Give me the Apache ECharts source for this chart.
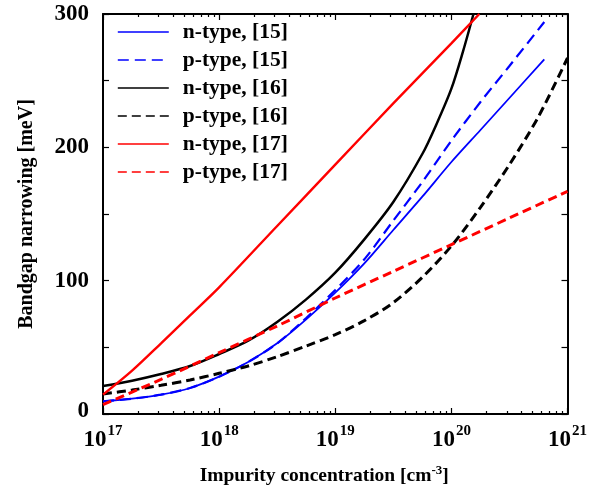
<!DOCTYPE html>
<html>
<head>
<meta charset="utf-8">
<script src="https://cdn.jsdelivr.net/npm/echarts@6/dist/echarts.min.js"></script>
<style>
html,body{margin:0;padding:0;background:#fff;}
#chart{width:590px;height:491px;}
</style>
</head>
<body>
<div id="chart"></div>
<script>
// ---- data (impurity concentration in cm^-3, bandgap narrowing in meV) ----
var seriesNames = ['n-type, [15]', 'p-type, [15]', 'n-type, [16]', 'p-type, [16]', 'n-type, [17]', 'p-type, [17]'];

var n15N = [1e17, 1.78e17, 3.16e17, 5.62e17, 1e18, 1.78e18, 3.16e18, 5.62e18, 1e19, 1.78e19, 3.16e19, 5.62e19, 1e20, 1.78e20, 3.16e20, 6.31e20];
var n15Y = [9.5, 11.5, 14.5, 19.5, 28, 39, 53, 71, 91, 113, 138, 163, 189, 213, 237, 266];

var p15N = [1e17, 1.78e17, 3.16e17, 5.62e17, 1e18, 1.78e18, 3.16e18, 5.62e18, 1e19, 1.78e19, 3.16e19, 5.62e19, 1e20, 1.78e20, 3.16e20, 6.31e20];
var p15Y = [9.5, 11.5, 14.5, 19.5, 28, 39, 53, 72, 93, 116, 145, 174, 205, 234, 261, 294];

var n16N = [1e17, 1.78e17, 3.16e17, 5.62e17, 1e18, 1.78e18, 3.16e18, 5.62e18, 1e19, 1.78e19, 3.16e19, 5.62e19, 7.41e19, 1e20, 1.26e20, 1.55e20];
var n16Y = [21, 25, 30, 36, 45, 55, 69, 86, 106, 131, 159, 195, 217, 244, 272, 300];

var p16N = [1e17, 1.78e17, 3.16e17, 5.62e17, 1e18, 1.78e18, 3.16e18, 5.62e18, 1e19, 1.78e19, 3.16e19, 5.62e19, 1e20, 1.78e20, 3.16e20, 5.62e20, 1e21];
var p16Y = [15, 18, 21.5, 25.5, 30.5, 36, 43, 51, 59.5, 70, 83.5, 102.5, 126, 155, 187, 223, 267];

var n17N = [1e17, 1.78e17, 3.16e17, 5.62e17, 1e18, 3.16e18, 1e19, 3.16e19, 1e20, 1.74e20];
var n17Y = [14.5, 32.5, 53, 74, 95, 141, 187, 233, 278, 300];

var p17N = [1e17, 3.16e17, 1e18, 3.16e18, 1e19, 3.16e19, 1e20, 3.16e20, 1e21];
var p17Y = [7, 26, 46, 66, 87, 107, 127, 147, 167];

var xMajorTicks = [1e17, 1e18, 1e19, 1e20, 9.999e20];
var xMinorTicks = [2e17,3e17,4e17,5e17,6e17,7e17,8e17,9e17,
                   2e18,3e18,4e18,5e18,6e18,7e18,8e18,9e18,
                   2e19,3e19,4e19,5e19,6e19,7e19,8e19,9e19,
                   2e20,3e20,4e20,5e20,6e20,7e20,8e20,9e20];
var yTicks = [0, 100, 200, 300];

function pairs(xs, ys) {
  var out = [];
  for (var i = 0; i < xs.length; i++) out.push([xs[i], ys[i]]);
  return out;
}

var FONT = 'Liberation Serif';
var AX = {color: '#000', width: 2};

function xAxisDef(pos, ticks, len, showLine, labels) {
  var a = {
    type: 'log', logBase: 10, min: 1e17, max: 1e21, position: pos,
    gridIndex: 0,
    axisLine: {show: showLine, lineStyle: AX},
    axisTick: {show: true, inside: true, length: len, lineStyle: {color: '#000', width: 1.2}, customValues: ticks},
    splitLine: {show: false},
    minorTick: {show: false},
    axisLabel: {show: false}
  };
  if (labels) {
    a.axisLabel = {
      show: true, margin: 10, customValues: xMajorTicks,
      formatter: function (v) {
        var e = Math.round(Math.log(v) / Math.LN10);
        return '{b|10}{s|' + e + '}';
      },
      rich: {
        b: {fontFamily: FONT, fontWeight: 'bold', fontSize: 23, color: '#000', lineHeight: 28, verticalAlign: 'bottom'},
        s: {fontFamily: FONT, fontWeight: 'bold', fontSize: 15, color: '#000', lineHeight: 28, verticalAlign: 'top', padding: [0, 0, 0, 1]}
      }
    };
    a.name = 'Impurity concentration [cm{s|-3}]';
    a.nameLocation = 'middle';
    a.nameGap = 50;
    a.nameTextStyle = {
      fontFamily: FONT, fontWeight: 'bold', fontSize: 19.5, color: '#000', padding: [0, 22, 0, 0],
      rich: {s: {fontFamily: FONT, fontWeight: 'bold', fontSize: 13, color: '#000', verticalAlign: 'top', lineHeight: 24}}
    };
  }
  return a;
}

function yAxisDef(pos, labels) {
  var a = {
    type: 'value', min: 0, max: 300, interval: 50, position: pos,
    axisLine: {show: true, lineStyle: AX},
    axisTick: {show: true, inside: true, length: 6, lineStyle: {color: '#000', width: 1.2}},
    splitLine: {show: false},
    axisLabel: {show: false}
  };
  if (labels) {
    a.axisLabel = {
      show: true, margin: 14, color: '#000',
      fontFamily: FONT, fontWeight: 'bold', fontSize: 23,
      formatter: function (v) {
        if (yTicks.indexOf(v) < 0) return '';
        return v === 0 ? '{z|0}' : String(v);
      },
      rich: {z: {fontFamily: FONT, fontWeight: 'bold', fontSize: 23, color: '#000', padding: [0, 0, 5, 0]}}
    };
    a.name = 'Bandgap narrowing [meV]';
    a.nameLocation = 'middle';
    a.nameGap = 66;
    a.nameTextStyle = {fontFamily: FONT, fontWeight: 'bold', fontSize: 20, color: '#000'};
  }
  return a;
}

function lineSeries(name, xs, ys, color, width, dash) {
  return {
    name: name, type: 'line', xAxisIndex: 0, yAxisIndex: 0,
    data: pairs(xs, ys), showSymbol: false, symbol: 'none',
    smooth: 0.3, animation: false,
    lineStyle: {color: color, width: width, type: dash || 'solid'},
    itemStyle: {color: color}
  };
}

var chart = echarts.init(document.getElementById('chart'), null, {renderer: 'canvas'});
chart.setOption({
  animation: false,
  backgroundColor: '#fff',
  grid: {left: 103, right: 22, top: 14, bottom: 73, containLabel: false},
  legend: {
    data: seriesNames, orient: 'vertical', left: 117, top: 21, padding: 0,
    itemWidth: 51, itemHeight: 14, itemGap: 6,
    itemStyle: {color: 'rgba(0,0,0,0)', borderWidth: 0, opacity: 0},
    lineStyle: {width: 1.6},
    textStyle: {fontFamily: FONT, fontWeight: 'bold', fontSize: 21.5, color: '#000', lineHeight: 20, padding: [0, 0, 0, 9]}
  },
  xAxis: [
    xAxisDef('bottom', xMajorTicks, 6, true, true),
    xAxisDef('bottom', xMinorTicks, 3, false, false),
    xAxisDef('top', xMajorTicks, 6, true, false),
    xAxisDef('top', xMinorTicks, 3, false, false)
  ],
  yAxis: [yAxisDef('left', true), yAxisDef('right', false)],
  series: [
    lineSeries(seriesNames[0], n15N, n15Y, '#0000ff', 1.8),
    lineSeries(seriesNames[1], p15N, p15Y, '#0000ff', 2.2, [11, 6]),
    lineSeries(seriesNames[2], n16N, n16Y, '#000000', 2.5),
    lineSeries(seriesNames[3], p16N, p16Y, '#000000', 3, [9, 5]),
    lineSeries(seriesNames[4], n17N, n17Y, '#ff0000', 2.4),
    lineSeries(seriesNames[5], p17N, p17Y, '#ff0000', 3, [9, 5])
  ]
});
</script>
</body>
</html>
